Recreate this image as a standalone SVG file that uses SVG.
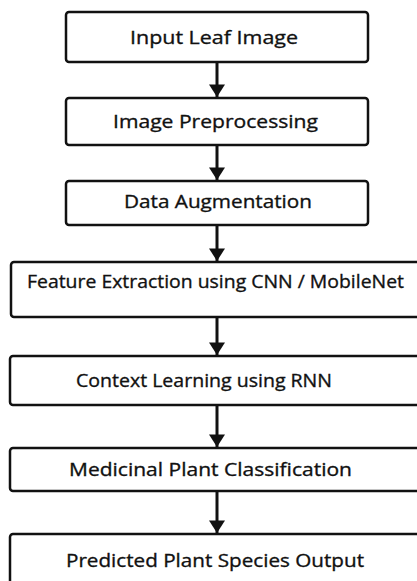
<svg xmlns="http://www.w3.org/2000/svg" width="417" height="581" viewBox="0 0 417 581">
<defs>
<style>
.box{fill:#fff;stroke:#111;stroke-width:2.5}
.lbl{font-family:"Open Sans","Noto Sans","DejaVu Sans",sans-serif;font-size:19px;font-weight:400;fill:#111;stroke:#111;stroke-width:0.35px;text-anchor:middle}
.conn line{stroke:#111;stroke-width:3}
</style>
<marker id="ah" markerWidth="5" markerHeight="5.4" refX="4.2" refY="2.7" orient="auto" markerUnits="strokeWidth">
<path d="M0,0 L4.2,2.7 L0,5.4 Z" fill="#111"/>
</marker>
</defs>
<rect width="417" height="581" fill="#fff"/>
<g id="n1"><rect class="box" x="66" y="12" width="302" height="50" rx="3"/><text class="lbl" x="214" y="44" textLength="168" lengthAdjust="spacingAndGlyphs">Input Leaf Image</text></g>
<g id="n2"><rect class="box" x="66" y="98" width="302" height="47" rx="3"/><text class="lbl" x="215.5" y="128" textLength="205" lengthAdjust="spacingAndGlyphs">Image Preprocessing</text></g>
<g id="n3"><rect class="box" x="66" y="181" width="302" height="44" rx="3"/><text class="lbl" x="218" y="208" textLength="188" lengthAdjust="spacingAndGlyphs">Data Augmentation</text></g>
<g id="n4"><rect class="box" x="11" y="262" width="412" height="55" rx="3"/><text class="lbl" x="215.5" y="288" textLength="377" lengthAdjust="spacingAndGlyphs">Feature Extraction using CNN / MobileNet</text></g>
<g id="n5"><rect class="box" x="10" y="356" width="413" height="49" rx="3"/><text class="lbl" x="204" y="387" textLength="256" lengthAdjust="spacingAndGlyphs">Context Learning using RNN</text></g>
<g id="n6"><rect class="box" x="10" y="448" width="413" height="43" rx="3"/><text class="lbl" x="210.5" y="476" textLength="283" lengthAdjust="spacingAndGlyphs">Medicinal Plant Classification</text></g>
<g id="n7"><rect class="box" x="10" y="534" width="413" height="60" rx="3"/><text class="lbl" x="215" y="567" textLength="298" lengthAdjust="spacingAndGlyphs">Predicted Plant Species Output</text></g>
<g class="conn">
<line x1="217" y1="62" x2="217" y2="97" marker-end="url(#ah)"/>
<line x1="217" y1="145" x2="217" y2="180" marker-end="url(#ah)"/>
<line x1="217" y1="225" x2="217" y2="261" marker-end="url(#ah)"/>
<line x1="217" y1="317" x2="217" y2="355" marker-end="url(#ah)"/>
<line x1="217" y1="405" x2="217" y2="447" marker-end="url(#ah)"/>
<line x1="217" y1="491" x2="217" y2="533" marker-end="url(#ah)"/>
</g>
</svg>
